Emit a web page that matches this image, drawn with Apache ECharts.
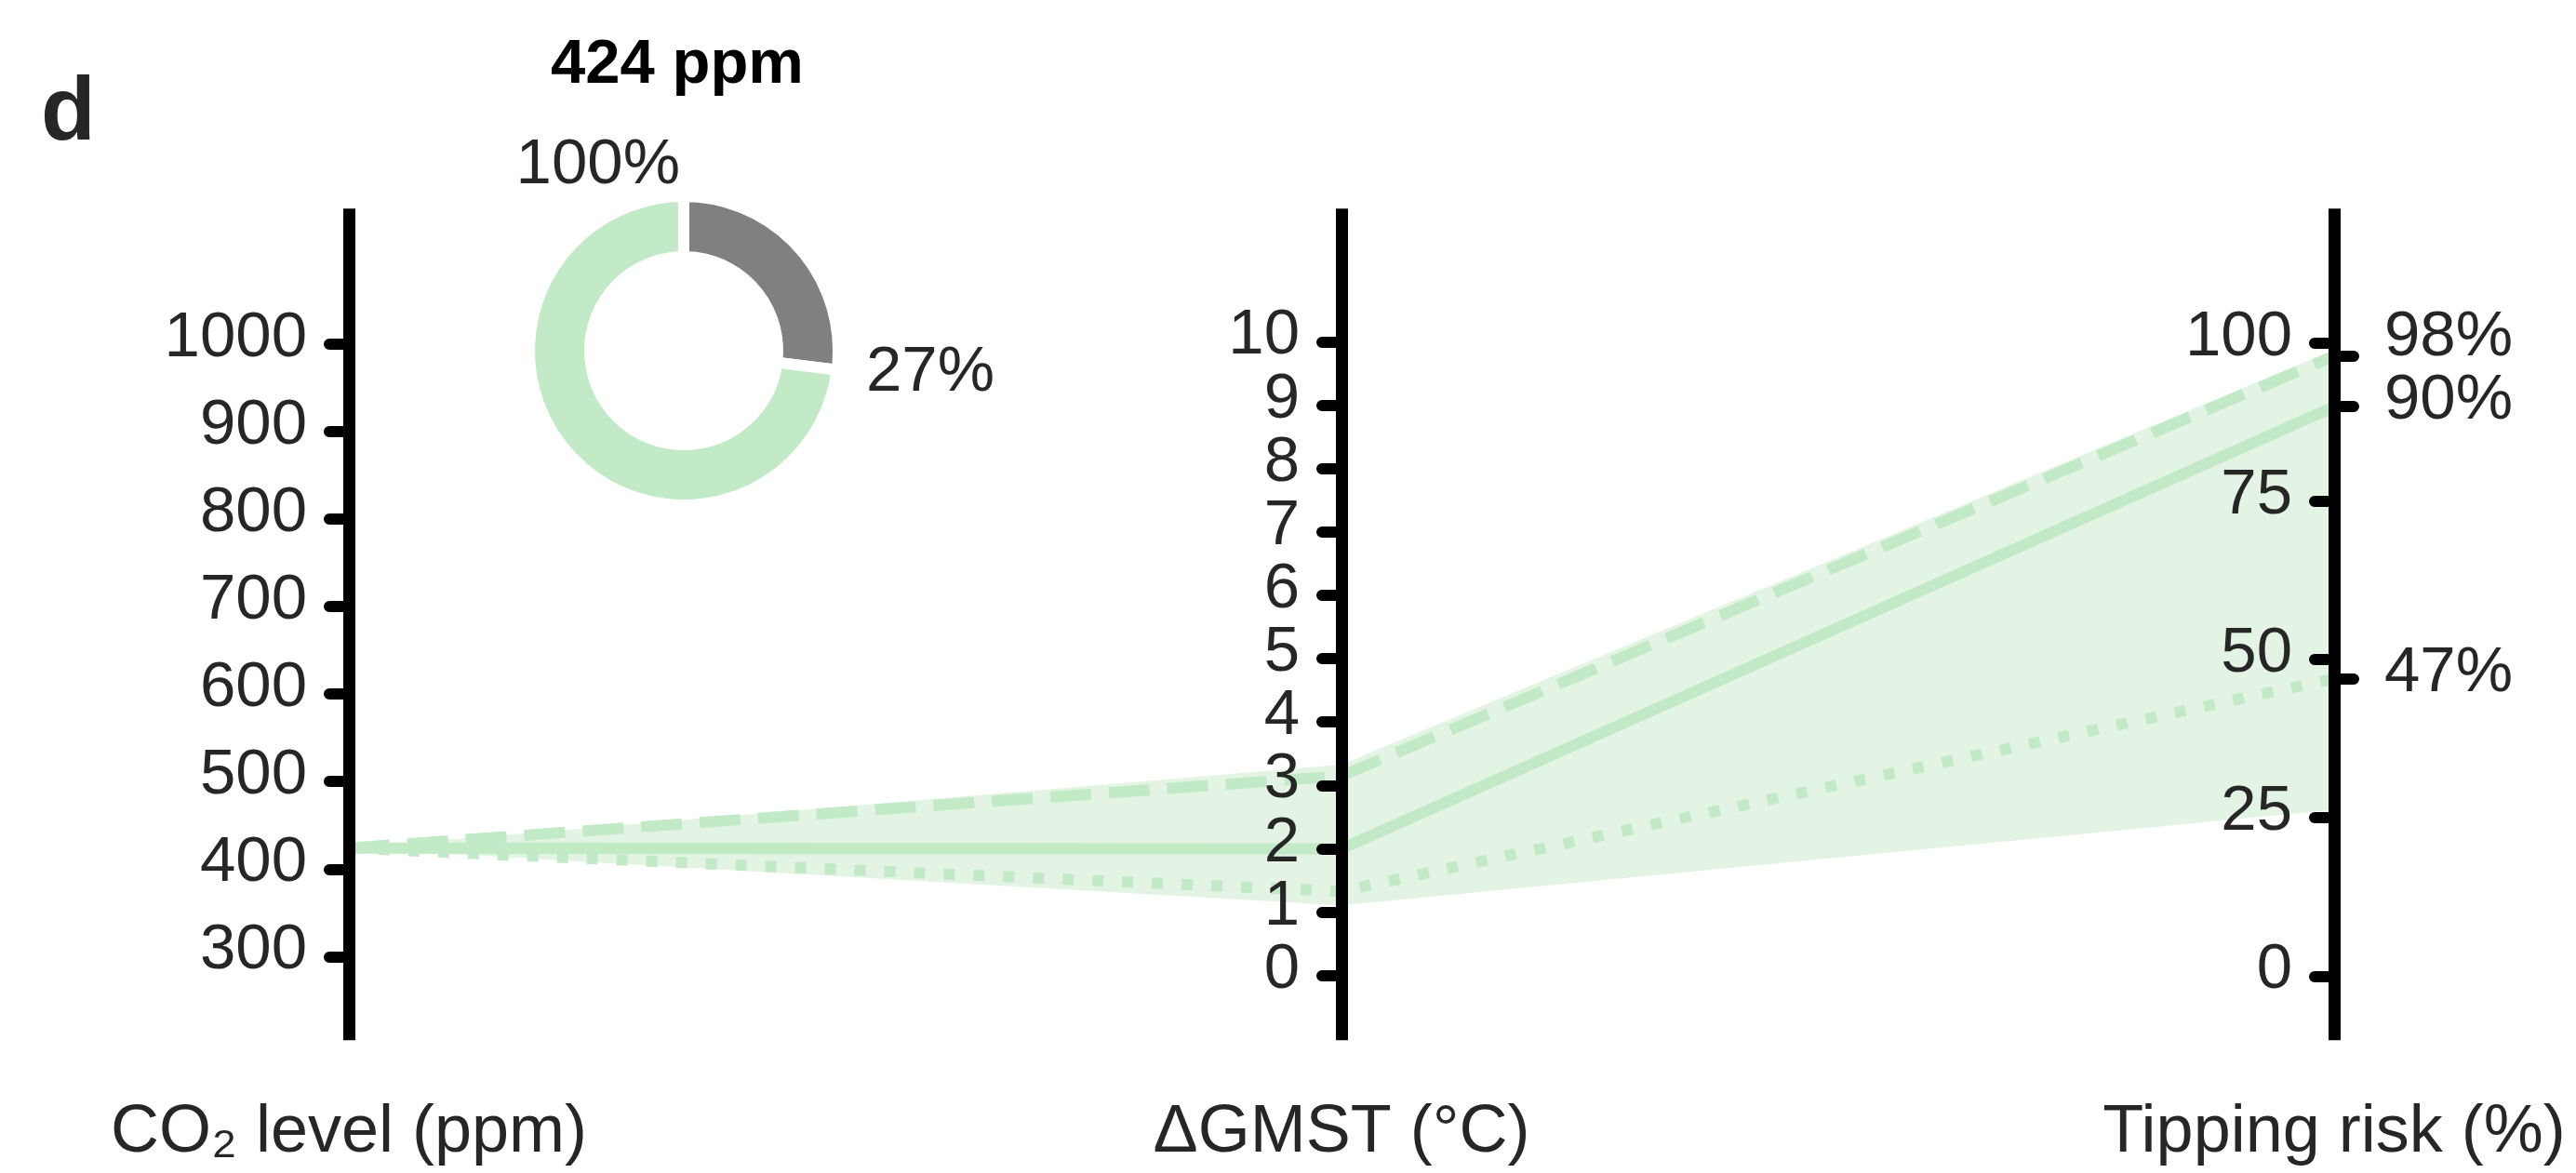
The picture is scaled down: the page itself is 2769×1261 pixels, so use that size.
<!DOCTYPE html>
<html>
<head>
<meta charset="utf-8">
<script src="https://cdn.jsdelivr.net/npm/echarts@6/dist/echarts.min.js"></script>
<style>
  html, body { margin: 0; padding: 0; background: #ffffff; }
  #chart { width: 2769px; height: 1261px; }
</style>
</head>
<body>
<div id="chart"></div>
<script>
// Axis titles, left to right
const AXIS_NAMES = ['CO₂ level (ppm)', 'ΔGMST (°C)', 'Tipping risk (%)'];

// Scenario paths: [CO2 (ppm), warming (°C), tipping risk (%)]
const CENTRAL = [424, 2.0, 90];
const HIGH = [424, 3.15, 98];
const LOW = [424, 1.33, 47];

// Uncertainty envelope around the scenarios
const ENVELOPE_UPPER = [424, 3.33, 99];
const ENVELOPE_LOWER = [424, 1.11, 26.3];

// Tick values for each vertical axis
const CO2_TICKS = [300, 400, 500, 600, 700, 800, 900, 1000];
const GMST_TICKS = [0, 1, 2, 3, 4, 5, 6, 7, 8, 9, 10];
const RISK_TICKS = [0, 25, 50, 75, 100];

// Donut: current concentration and its share
const CO2_NOW = 424;
const DONUT_SHARE = 27;
const DONUT_TOTAL = 100;

const FONT = '"Liberation Sans", Arial, Helvetica, sans-serif';
const TEXT = '#262626';
const GREEN = '#c2eac6';
const ENVELOPE = '#e3f4e5';
const GREY = '#808080';
const FS = 69;

const chart = echarts.init(document.getElementById('chart'), null, { renderer: 'canvas' });

// pixel position of a value on one of the three vertical axes
function pt(axisIdx, value) {
  return [
    chart.convertToPixel({ xAxisIndex: 0 }, axisIdx),
    chart.convertToPixel({ yAxisIndex: axisIdx }, value)
  ];
}

function pathSeries(name, values, dash) {
  return {
    type: 'custom',
    name: name,
    coordinateSystem: 'none',
    silent: true,
    z: 3,
    data: [[0]],
    renderItem: function () {
      return {
        type: 'polyline',
        shape: { points: values.map(function (v, i) { return pt(i, v); }) },
        style: { stroke: GREEN, lineWidth: 12, fill: null, lineDash: dash, lineCap: 'butt', lineJoin: 'miter' }
      };
    }
  };
}

function tickStyle(values) {
  return { show: true, length: 21, customValues: values, lineStyle: { color: '#000000', width: 12, cap: 'round' } };
}

// lift: how far the label's centre sits above its tick
// (bottom-aligned box whose line height is twice the lift)
function labelStyle(values, margin, fmt, lift) {
  const l = lift || 6;
  return {
    show: true, margin: margin, fontSize: FS, fontFamily: FONT, color: TEXT,
    verticalAlign: 'bottom', lineHeight: 2 * l,
    customValues: values, showMinLabel: true, showMaxLabel: true,
    formatter: fmt || function (v) { return String(v); }
  };
}

function verticalAxis(opts, lineShown) {
  return Object.assign({
    type: 'value',
    z: 10,
    splitLine: { show: false },
    axisLine: { show: lineShown !== false, onZero: false, lineStyle: { color: '#000000', width: 13, cap: 'butt' } }
  }, opts);
}

// closely spaced ticks are split over two overlaid axes so every label stays visible
const even = function (arr) { return arr.filter(function (_, i) { return i % 2 === 0; }); };
const odd = function (arr) { return arr.filter(function (_, i) { return i % 2 === 1; }); };

const RISK_ENDS = [HIGH[2], CENTRAL[2], LOW[2]];
const pct = function (v) { return v + '%'; };

const GMST_RANGE = { min: -1.02, max: 12.1 };
const RISK_RANGE = { min: -10.15, max: 121.3 };

const option = {
  backgroundColor: '#ffffff',
  animation: false,
  grid: { left: 375, right: 260, top: 224.3, bottom: 142.7, containLabel: false, outerBoundsMode: 'none' },
  xAxis: {
    type: 'value',
    min: 0,
    max: 2,
    axisLine: { show: false, onZero: false },
    axisTick: { show: false },
    splitLine: { show: false },
    axisLabel: {
      show: true,
      customValues: [0, 1, 2],
      showMinLabel: true,
      showMaxLabel: true,
      margin: 64,
      fontSize: 72,
      fontFamily: FONT,
      color: TEXT,
      formatter: function (v) { return AXIS_NAMES[v]; }
    }
  },
  yAxis: [
    // 0: CO2
    verticalAxis({
      min: 204.3, max: 1155, position: 'left', offset: 0,
      axisTick: tickStyle(CO2_TICKS),
      axisLabel: labelStyle(CO2_TICKS, 45)
    }),
    // 1: warming
    verticalAxis(Object.assign({
      position: 'left', offset: -1067,
      axisTick: tickStyle(even(GMST_TICKS)),
      axisLabel: labelStyle(even(GMST_TICKS), 45)
    }, GMST_RANGE)),
    // 2: tipping risk
    verticalAxis(Object.assign({
      position: 'left', offset: -2134,
      axisTick: tickStyle(RISK_TICKS),
      axisLabel: labelStyle(RISK_TICKS, 45)
    }, RISK_RANGE)),
    // 3: warming, remaining ticks
    verticalAxis(Object.assign({
      position: 'left', offset: -1067,
      axisTick: tickStyle(odd(GMST_TICKS)),
      axisLabel: labelStyle(odd(GMST_TICKS), 45)
    }, GMST_RANGE), false),
    // 4, 5: end values of the scenario paths, marked on the right side;
    // the topmost label is nudged up to clear its neighbour
    verticalAxis(Object.assign({
      position: 'right', offset: 0,
      axisTick: tickStyle(RISK_ENDS.slice(0, 1)),
      axisLabel: labelStyle(RISK_ENDS.slice(0, 1), 54, pct, 20)
    }, RISK_RANGE), false),
    verticalAxis(Object.assign({
      position: 'right', offset: 0,
      axisTick: tickStyle(RISK_ENDS.slice(1)),
      axisLabel: labelStyle(RISK_ENDS.slice(1), 54, pct)
    }, RISK_RANGE), false)
  ],
  graphic: [
    { type: 'text', x: 44, y: 124, z: 20, style: { text: 'd', font: 'bold 96px ' + FONT, fill: TEXT, align: 'left', verticalAlign: 'middle' } },
    { type: 'text', x: 728, y: 71, z: 20, style: { text: CO2_NOW + ' ppm', font: 'bold 67px ' + FONT, fill: '#000000', align: 'center', verticalAlign: 'middle' } },
    { type: 'text', x: 731, y: 178, z: 20, style: { text: DONUT_TOTAL + '%', font: FS + 'px ' + FONT, fill: TEXT, align: 'right', verticalAlign: 'middle' } },
    { type: 'text', x: 931, y: 401, z: 20, style: { text: DONUT_SHARE + '%', font: FS + 'px ' + FONT, fill: TEXT, align: 'left', verticalAlign: 'middle' } }
  ],
  series: [
    {
      type: 'custom',
      name: 'envelope',
      coordinateSystem: 'none',
      silent: true,
      z: 1,
      data: [[0]],
      renderItem: function () {
        const upper = ENVELOPE_UPPER.map(function (v, i) { return pt(i, v); });
        const lower = ENVELOPE_LOWER.map(function (v, i) { return pt(i, v); }).reverse();
        return { type: 'polygon', shape: { points: upper.concat(lower) }, style: { fill: ENVELOPE, stroke: null } };
      }
    },
    pathSeries('high', HIGH, [44, 19]),
    pathSeries('low', LOW, [12, 20]),
    pathSeries('central', CENTRAL, null),
    {
      type: 'pie',
      name: 'share',
      center: [735, 377],
      radius: [101, 166],
      startAngle: 90,
      clockwise: true,
      silent: true,
      label: { show: false },
      labelLine: { show: false },
      emphasis: { disabled: true },
      itemStyle: { borderColor: '#ffffff', borderWidth: 12 },
      data: [
        { value: DONUT_SHARE, name: 'share', itemStyle: { color: GREY } },
        { value: DONUT_TOTAL - DONUT_SHARE, name: 'rest', itemStyle: { color: GREEN } }
      ]
    }
  ]
};

chart.setOption(option);
</script>
</body>
</html>
